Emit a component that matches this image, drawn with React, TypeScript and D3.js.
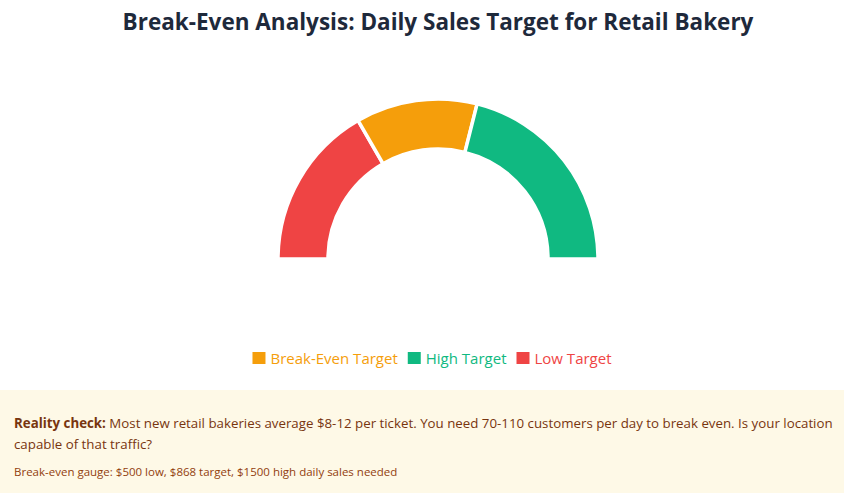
import React, { useEffect, useRef } from "react";
import * as d3 from "d3";

const segmentLabels = ["Low Target", "Break-Even Target", "High Target"];
const segmentValues = [500, 368, 632];
const segmentColors = ["#ef4444", "#f59e0b", "#10b981"];
const legendOrder = ["Break-Even Target", "High Target", "Low Target"];
const title = "Break-Even Analysis: Daily Sales Target for Retail Bakery";
const noteBold = "Reality check:";
const noteLine1 = " Most new retail bakeries average $8-12 per ticket. You need 70-110 customers per day to break even. Is your location";
const noteLine2 = "capable of that traffic?";
const noteSmall = "Break-even gauge: $500 low, $868 target, $1500 high daily sales needed";

const W = 844;
const H = 493;
const FONT = "'Open Sans', 'Noto Sans', sans-serif";

export default function App() {
  const ref = useRef<SVGSVGElement | null>(null);

  useEffect(() => {
    const svg = d3.select(ref.current);
    svg.selectAll("*").remove();

    svg
      .append("text")
      .attr("x", 438)
      .attr("y", 30)
      .attr("text-anchor", "middle")
      .attr("font-family", FONT)
      .attr("font-size", 22.5)
      .attr("font-weight", 700)
      .attr("fill", "#1e293b")
      .text(title);

    const cx = 438;
    const cy = 259;
    const pie = d3
      .pie<number>()
      .sort(null)
      .startAngle(-Math.PI / 2)
      .endAngle(Math.PI / 2);
    const arc = d3.arc<d3.PieArcDatum<number>>().innerRadius(110).outerRadius(160);
    const g = svg.append("g").attr("transform", `translate(${cx},${cy})`);
    g.selectAll("path")
      .data(pie(segmentValues))
      .join("path")
      .attr("d", arc as any)
      .attr("fill", (_d, i) => segmentColors[i])
      .attr("stroke", "#ffffff")
      .attr("stroke-width", 3.5);

    // legend
    const colorOf = (l: string) => segmentColors[segmentLabels.indexOf(l)];
    const lg = svg.append("g");
    let x = 0;
    const items: { l: string; x: number }[] = [];
    const tmp = lg
      .append("text")
      .attr("font-family", FONT)
      .attr("font-size", 15);
    const widths = legendOrder.map((l) => {
      tmp.text(l);
      return (tmp.node() as SVGTextElement).getComputedTextLength();
    });
    tmp.remove();
    legendOrder.forEach((l, i) => {
      items.push({ l, x });
      x += 13 + 5 + widths[i] + 10;
    });
    const total = x - 10;
    const lx0 = 432 - total / 2;
    items.forEach((it) => {
      lg.append("rect")
        .attr("x", lx0 + it.x)
        .attr("y", 352)
        .attr("width", 13)
        .attr("height", 12)
        .attr("fill", colorOf(it.l));
      lg.append("text")
        .attr("x", lx0 + it.x + 18)
        .attr("y", 364)
        .attr("font-family", FONT)
        .attr("font-size", 15)
        .attr("fill", colorOf(it.l))
        .text(it.l);
    });

    // footer
    svg
      .append("rect")
      .attr("x", 0)
      .attr("y", 390)
      .attr("width", W)
      .attr("height", H - 390)
      .attr("fill", "#fef9e7");
    const t1 = svg
      .append("text")
      .attr("x", 14)
      .attr("y", 428)
      .attr("font-family", FONT)
      .attr("font-size", 13.3)
      .attr("fill", "#78350f");
    t1.append("tspan").attr("font-weight", 700).text(noteBold);
    t1.append("tspan").text(noteLine1);
    svg
      .append("text")
      .attr("x", 14)
      .attr("y", 449)
      .attr("font-family", FONT)
      .attr("font-size", 13.3)
      .attr("fill", "#78350f")
      .text(noteLine2);
    svg
      .append("text")
      .attr("x", 14)
      .attr("y", 476)
      .attr("font-family", FONT)
      .attr("font-size", 11.5)
      .attr("fill", "#92400e")
      .text(noteSmall);
  }, []);

  return (
    <svg
      ref={ref}
      width={W}
      height={H}
      style={{ position: "fixed", left: 0, top: 0, background: "#ffffff" }}
    />
  );
}
